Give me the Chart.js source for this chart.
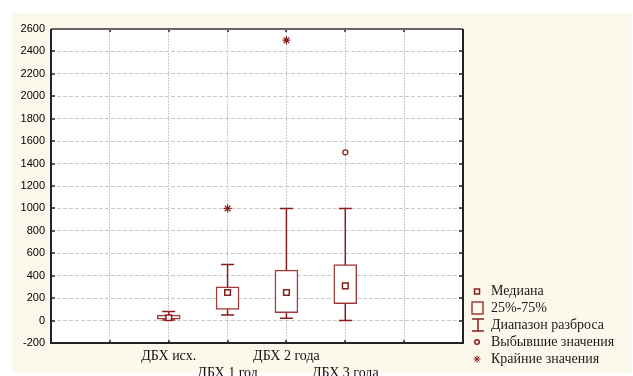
<!DOCTYPE html>
<html>
<head>
<meta charset="utf-8">
<script src="https://cdn.jsdelivr.net/npm/chart.js@4"></script>
<style>
  html, body { margin: 0; padding: 0; background: #fff; }
  #wrap { width: 633px; height: 376px; position: relative; }
</style>
</head>
<body>
<div id="wrap"><canvas id="boxChart"></canvas></div>
<script>
// Box plot data
const categories = ['ДБХ исх.', 'ДБХ 1 год', 'ДБХ 2 года', 'ДБХ 3 года'];
const whiskerMin = [5, 50, 20, 0];
const q1 = [12, 100, 70, 150];
const medians = [25, 250, 250, 310];
const q3 = [48, 300, 450, 500];
const whiskerMax = [80, 500, 1000, 1000];
const outlierCats = ['ДБХ 3 года'];
const outlierVals = [1500];
const extremeCats = ['ДБХ 1 год', 'ДБХ 2 года'];
const extremeVals = [1000, 2500];
const yTicks = [-200, 0, 200, 400, 600, 800, 1000, 1200, 1400, 1600, 1800, 2000, 2200, 2400, 2600];
const legendItems = ['Медиана', '25%-75%', 'Диапазон разброса', 'Выбывшие значения', 'Крайние значения'];

// axis slots: two empty slots before, two after
const slots = ['', '', ...categories, '', ''];

const RED = '#8b1c1c';
const BOXRED = '#a33a3a';

// background: white page, cream panel, white plot area
const backdrop = {
  id: 'backdrop',
  beforeDraw(chart) {
    const { ctx, chartArea: a } = chart;
    ctx.save();
    ctx.fillStyle = '#ffffff';
    ctx.fillRect(0, 0, chart.width, chart.height);
    ctx.fillStyle = '#fcf8eb';
    ctx.fillRect(12, 13, 620, 360);
    ctx.fillStyle = '#ffffff';
    ctx.fillRect(a.left, a.top, a.right - a.left, a.bottom - a.top);
    ctx.restore();
  }
};

// whiskers drawn under the boxes
const whiskers = {
  id: 'whiskers',
  beforeDatasetsDraw(chart) {
    const { ctx, scales: { x, y } } = chart;
    ctx.save();
    ctx.strokeStyle = RED;
    ctx.lineWidth = 1.5;
    categories.forEach((c, i) => {
      const px = x.getPixelForValue(slots.indexOf(c));
      const top = y.getPixelForValue(whiskerMax[i]);
      const bot = y.getPixelForValue(whiskerMin[i]);
      ctx.beginPath();
      ctx.moveTo(px, top); ctx.lineTo(px, bot);
      ctx.moveTo(px - 6.5, top); ctx.lineTo(px + 6.5, top);
      ctx.moveTo(px - 6.5, bot); ctx.lineTo(px + 6.5, bot);
      ctx.stroke();
    });
    ctx.restore();
  }
};

// frame, inner tick marks and legend
const frame = {
  id: 'frame',
  afterDraw(chart) {
    const { ctx, chartArea: a, scales: { x, y } } = chart;
    ctx.save();
    ctx.strokeStyle = '#2a2a2a';
    ctx.lineWidth = 1.5;
    ctx.beginPath();
    yTicks.forEach(v => {
      const py = Math.round(y.getPixelForValue(v));
      ctx.moveTo(a.left, py); ctx.lineTo(a.left + 4, py);
      ctx.moveTo(a.right, py); ctx.lineTo(a.right - 4, py);
    });
    for (let k = 1; k < slots.length - 1; k++) {
      const px = Math.round(x.getPixelForValue(k));
      ctx.moveTo(px, a.top); ctx.lineTo(px, a.top + 3);
      ctx.moveTo(px, a.bottom); ctx.lineTo(px, a.bottom - 3);
    }
    ctx.stroke();
    ctx.lineWidth = 2;
    ctx.strokeStyle = '#666';
    ctx.beginPath();
    ctx.moveTo(a.left, a.top); ctx.lineTo(a.right, a.top);
    ctx.stroke();
    ctx.strokeStyle = '#222';
    ctx.beginPath();
    ctx.moveTo(a.right, a.top); ctx.lineTo(a.right, a.bottom);
    ctx.lineTo(a.left, a.bottom); ctx.lineTo(a.left, a.top);
    ctx.stroke();

    // legend
    const ix = 477, tx = 491;
    const rows = [291.5, 308, 325, 342, 359];
    ctx.font = '14px "Liberation Serif"';
    ctx.fillStyle = '#1a1a1a';
    ctx.textBaseline = 'middle';
    legendItems.forEach((t, i) => ctx.fillText(t, tx, rows[i]));
    ctx.strokeStyle = RED;
    ctx.lineWidth = 1.5;
    ctx.strokeRect(ix - 2.5, rows[0] - 2.5, 5, 5);
    ctx.strokeStyle = BOXRED;
    ctx.strokeRect(ix - 5, rows[1] - 6, 11, 12);
    ctx.strokeStyle = RED;
    ctx.beginPath();
    ctx.moveTo(ix + 1, rows[2] - 6); ctx.lineTo(ix + 1, rows[2] + 6);
    ctx.moveTo(ix - 5, rows[2] - 6); ctx.lineTo(ix + 7, rows[2] - 6);
    ctx.moveTo(ix - 5, rows[2] + 6); ctx.lineTo(ix + 7, rows[2] + 6);
    ctx.stroke();
    ctx.beginPath();
    ctx.arc(ix, rows[3], 2.3, 0, Math.PI * 2);
    ctx.stroke();
    ctx.lineWidth = 1;
    ctx.beginPath();
    for (let k = 0; k < 4; k++) {
      const ang = k * Math.PI / 4;
      ctx.moveTo(ix - 3.5 * Math.cos(ang), rows[4] - 3.5 * Math.sin(ang));
      ctx.lineTo(ix + 3.5 * Math.cos(ang), rows[4] + 3.5 * Math.sin(ang));
    }
    ctx.stroke();
    ctx.restore();
  }
};

const ctx = document.getElementById('boxChart').getContext('2d');
new Chart(ctx, {
  type: 'bar',
  data: {
    labels: slots,
    datasets: [
      {
        type: 'line', showLine: false, order: 1,
        data: categories.map((c, i) => ({ x: c, y: medians[i] })),
        pointStyle: 'rect', pointRadius: 4,
        pointBorderColor: RED, pointBackgroundColor: '#fff', pointBorderWidth: 1.5,
      },
      {
        type: 'line', showLine: false, order: 1,
        data: outlierCats.map((c, i) => ({ x: c, y: outlierVals[i] })),
        pointStyle: 'circle', pointRadius: 2.5,
        pointBorderColor: RED, pointBackgroundColor: '#fff', pointBorderWidth: 1.3,
      },
      {
        type: 'line', showLine: false, order: 1,
        data: extremeCats.map((c, i) => ({ x: c, y: extremeVals[i] })),
        pointStyle: 'star', pointRadius: 4,
        pointBorderColor: RED, pointBackgroundColor: RED, pointBorderWidth: 1.2,
      },
      {
        order: 3,
        data: categories.map((c, i) => ({ x: c, y: [q1[i], q3[i]] })),
        backgroundColor: '#ffffff',
        borderColor: BOXRED,
        borderWidth: 1.5,
        borderSkipped: false,
        barThickness: 23,
      }
    ]
  },
  options: {
    responsive: true, maintainAspectRatio: false, animation: false,
    layout: { padding: { left: 0, top: 29, right: 170, bottom: 0 } },
    plugins: { legend: { display: false }, tooltip: { enabled: false } },
    scales: {
      x: {
        offset: false,
        grid: { offset: false, drawTicks: false, color: '#c8c8c8', lineWidth: 1 },
        border: { display: false, dash: [2, 1] },
        ticks: {
          autoSkip: false, maxRotation: 0, padding: 5,
          color: '#111', font: { family: 'Liberation Serif', size: 14 },
          callback: (v, i) => {
            const n = categories.indexOf(slots[i]);
            return n % 2 === 1 ? ['', slots[i]] : slots[i];
          }
        },
        afterFit: s => { s.height = 33; }
      },
      y: {
        min: -200, max: 2600,
        afterBuildTicks: s => { s.ticks = yTicks.map(v => ({ value: v })); },
        grid: { drawTicks: false, color: '#c8c8c8', lineWidth: 1 },
        border: { display: false, dash: [4, 2] },
        ticks: {
          padding: 6, color: '#000', font: { family: 'Liberation Sans', size: 11 },
          callback: v => String(v)
        },
        afterFit: s => { s.width = 51; }
      }
    }
  },
  plugins: [backdrop, whiskers, frame]
});
</script>
</body>
</html>
